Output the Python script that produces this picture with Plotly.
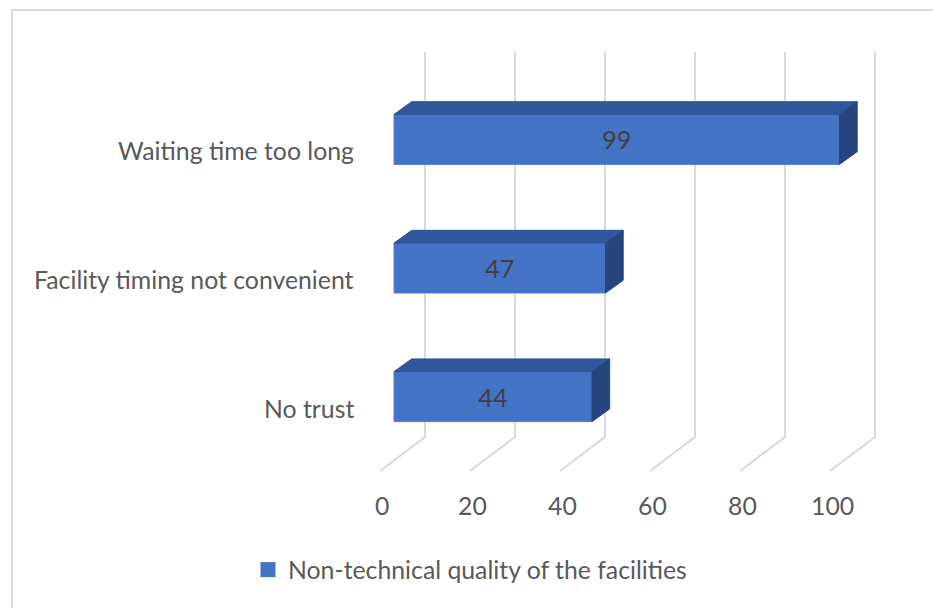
import plotly.graph_objects as go

# ---------------- data ----------------
categories = ["No trust", "Facility timing not convenient", "Waiting time too long"]
values = [44, 47, 99]
tick_values = [0, 20, 40, 60, 80, 100]
tick_labels = ["0", "20", "40", "60", "80", "100"]
series_name = "Non-technical quality of the facilities"

# ---------------- styling / geometry ----------------
W, H = 933, 608
FONT = "Lato"
TXT = "#595959"
LBL = "#404040"
FRONT = "#4472C4"
TOP = "#30569B"
SIDE = "#27467D"
GRID = "#D9D9D9"
FS = 24.8

# pixel mapping of the front plane (used to set axis ranges so the library scales do the work)
ZERO_PX = 394.0      # x pixel of value 0 on the bar front plane
PX_PER_VAL = 4.5     # pixels per value unit
CAT0_PX = 396.6      # y pixel of the first category centre
PX_PER_CAT = 128.6   # pixels per category step

def dxv(px):  # pixel offset -> value units
    return px / PX_PER_VAL

def dyc(px):  # pixel offset (upwards) -> category units
    return px / PX_PER_CAT

x_range = [(0 - ZERO_PX) / PX_PER_VAL, (W - ZERO_PX) / PX_PER_VAL]
y_range = [(CAT0_PX - H) / PX_PER_CAT, CAT0_PX / PX_PER_CAT]

BAR_H = dyc(50)          # bar thickness
DEPTH_X = dxv(17.7)      # 3D depth offset
DEPTH_Y = dyc(12.7)

positions = list(range(len(categories)))

fig = go.Figure()

# front faces (bars)
fig.add_trace(go.Bar(
    x=values, y=positions, orientation="h", width=BAR_H, base=0,
    name=series_name,
    marker=dict(color=FRONT, line=dict(color="#5080D0", width=1)),
    text=[str(v) for v in values], textposition="inside", insidetextanchor="middle",
    textangle=0, constraintext="none",
    textfont=dict(family=FONT, size=FS + 0.5, color=LBL),
    showlegend=False, hoverinfo="skip",
))

# legend entry (square swatch in series colour)
fig.add_trace(go.Scatter(
    x=[None], y=[None], mode="markers", name=series_name,
    marker=dict(symbol="square", size=15, color=FRONT),
    showlegend=True, hoverinfo="skip",
))

# top and side faces
for v, c in zip(values, positions):
    top = c + BAR_H / 2
    bot = c - BAR_H / 2
    fig.add_trace(go.Scatter(
        x=[0, v, v + DEPTH_X, DEPTH_X, 0],
        y=[top, top, top + DEPTH_Y, top + DEPTH_Y, top],
        fill="toself", fillcolor=TOP, mode="lines",
        line=dict(color=TOP, width=1), showlegend=False, hoverinfo="skip",
    ))
    fig.add_trace(go.Scatter(
        x=[v, v + DEPTH_X, v + DEPTH_X, v, v],
        y=[bot, bot + DEPTH_Y, top + DEPTH_Y, top, bot],
        fill="toself", fillcolor=SIDE, mode="lines",
        line=dict(color=SIDE, width=1), showlegend=False, hoverinfo="skip",
    ))

# back-wall / floor gridlines
WALL_TOP = dyc(CAT0_PX - 52)
WALL_BOT = dyc(CAT0_PX - 437)
FLOOR_FRONT = dyc(CAT0_PX - 471)
BACK_DX = dxv(31)
FRONT_DX = dxv(-14)
shapes = []
for t in tick_values:
    shapes.append(dict(
        type="path", layer="below", xref="x", yref="y",
        path=f"M{t + BACK_DX},{WALL_TOP} L{t + BACK_DX},{WALL_BOT} L{t + FRONT_DX},{FLOOR_FRONT}",
        line=dict(color=GRID, width=2),
    ))

# chart border (top and left edges visible)
shapes.append(dict(type="line", xref="paper", yref="paper", x0=12 / W, x1=1, y0=1 - 10 / H, y1=1 - 10 / H,
                   line=dict(color=GRID, width=2)))
shapes.append(dict(type="line", xref="paper", yref="paper", x0=12 / W, x1=12 / W, y0=0, y1=1 - 10 / H,
                   line=dict(color=GRID, width=2)))

annotations = []
# value axis tick labels (at floor front)
TICK_Y = dyc(CAT0_PX - 505)
for t, lab in zip(tick_values, tick_labels):
    annotations.append(dict(x=t + FRONT_DX + dxv(2), y=TICK_Y, xref="x", yref="y", text=lab,
                            showarrow=False, xanchor="center", yanchor="middle",
                            font=dict(family=FONT, size=FS, color=TXT)))
# category labels
CAT_X = dxv(356 - ZERO_PX)
for c, lab in zip(positions, categories):
    annotations.append(dict(x=CAT_X, y=c - dyc(11.5), xref="x", yref="y", text=lab,
                            showarrow=False, xanchor="right", yanchor="middle",
                            font=dict(family=FONT, size=FS, color=TXT)))

fig.update_layout(
    width=W, height=H,
    margin=dict(l=0, r=0, t=0, b=0),
    paper_bgcolor="white", plot_bgcolor="white",
    xaxis=dict(range=x_range, visible=False, fixedrange=True),
    yaxis=dict(range=y_range, visible=False, fixedrange=True),
    shapes=shapes, annotations=annotations,
    showlegend=True,
    legend=dict(orientation="h", x=248 / W, y=1 - 570 / H, xanchor="left", yanchor="middle",
                font=dict(family=FONT, size=FS, color=TXT), bgcolor="rgba(0,0,0,0)"),
    hovermode=False,
)

fig.write_html("out.html")
